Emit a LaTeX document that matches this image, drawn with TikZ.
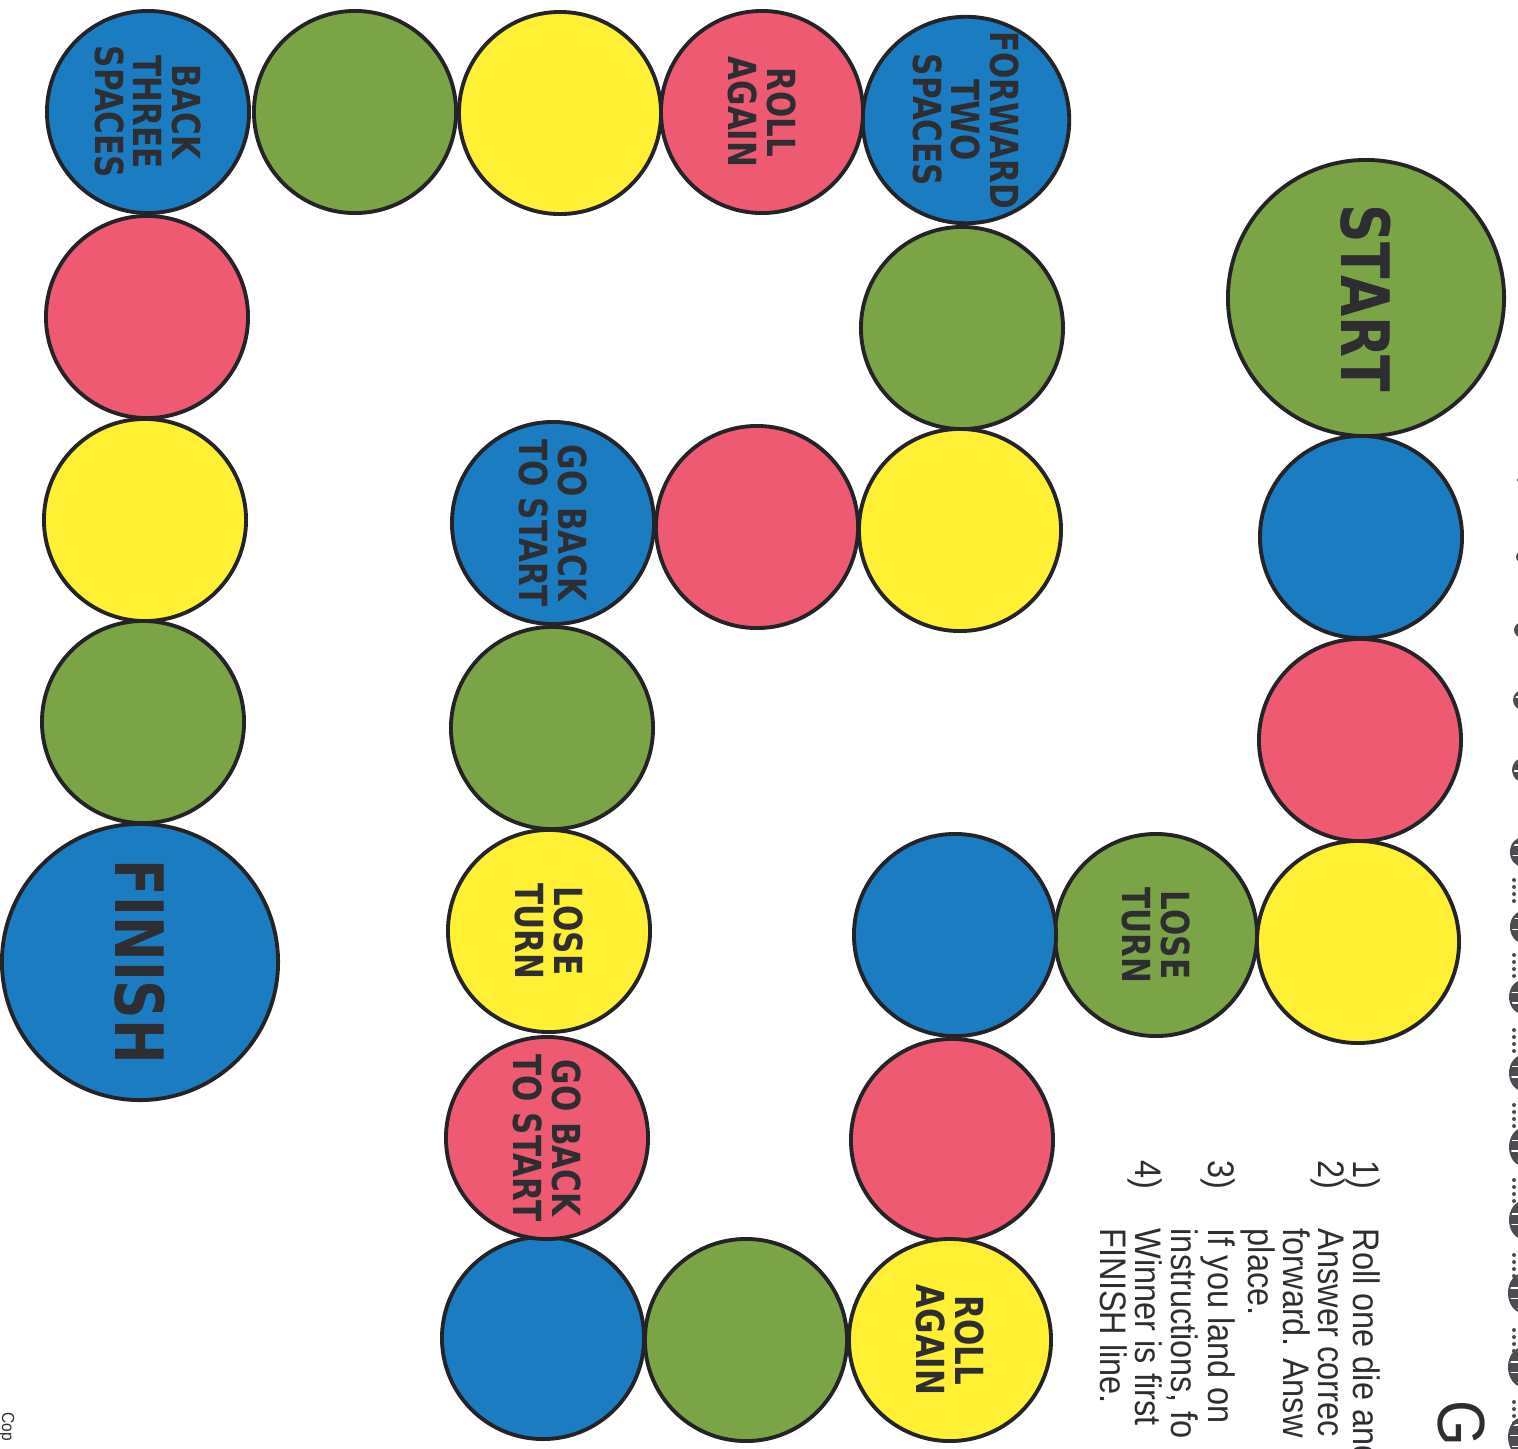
\documentclass[tikz,border=0pt]{standalone}
\usepackage{fontspec}
\usepackage{tikz}
\usetikzlibrary{patterns}
\newfontfamily\spotfont[FakeStretch=0.8]{DejaVu Sans}
\newfontfamily\rulefont[FakeStretch=0.88]{Liberation Sans}
\definecolor{myblue}{RGB}{27,124,193}
\definecolor{mylime}{RGB}{123,164,70}
\definecolor{mypink}{RGB}{238,90,114}
\definecolor{myyellow}{RGB}{255,240,51}
\definecolor{myink}{RGB}{45,45,50}
\tikzset{
  spot/.style={circle, draw=myink!80!black, line width=1.1pt, minimum size=2.02cm, inner sep=0pt, align=center, rotate=-90, text=myink, font=\spotfont\bfseries\fontsize{11}{11}\selectfont},
  bigspot/.style={spot, minimum size=2.76cm, font=\spotfont\bfseries\fontsize{19}{19}\selectfont},
  rule/.style={anchor=base west, rotate=-90, inner sep=0pt, text=myink, font=\rulefont\fontsize{10.5}{10.5}\selectfont},
  strand/.style={fill=myink!85}
}

\begin{document}
\begin{tikzpicture}[x=0.01cm, y=-0.01cm]
  \useasboundingbox (0,0) rectangle (1518,1448);
  \clip (0,0) rectangle (1518,1448);

  % board, from START round to FINISH
  \node [bigspot, fill=mylime] (start) at (1366,298) {START};
  \node [spot, fill=myblue] (s1) at (1361,537) {};
  \node [spot, fill=mypink] (s2) at (1360,740) {};
  \node [spot, fill=myyellow] (s3) at (1358,942) {};
  \node [spot, fill=mylime] (s4) at (1156,935) {LOSE\\TURN};
  \node [spot, fill=myblue] (s5) at (955,935) {};
  \node [spot, fill=mypink] (s6) at (952,1140) {};
  \node [spot, fill=myyellow] (s7) at (950,1340) {ROLL\\AGAIN};
  \node [spot, fill=mylime] (s8) at (746,1340) {};
  \node [spot, fill=myblue] (s9) at (543,1338) {};
  \node [spot, fill=mypink] (s10) at (547,1138) {GO BACK\\TO START};
  \node [spot, fill=myyellow] (s11) at (549,931) {LOSE\\TURN};
  \node [spot, fill=mylime] (s12) at (552,728) {};
  \node [spot, fill=myblue] (s13) at (553,523) {GO BACK\\TO START};
  \node [spot, fill=mypink] (s14) at (757,527) {};
  \node [spot, fill=myyellow] (s15) at (960,530) {};
  \node [spot, fill=mylime] (s16) at (962,328) {};
  \node [spot, fill=myblue] (s17) at (966,120) {FORWARD\\TWO\\SPACES};
  \node [spot, fill=mypink] (s18) at (762,112) {ROLL\\AGAIN};
  \node [spot, fill=myyellow] (s19) at (560,113) {};
  \node [spot, fill=mylime] (s20) at (355,112) {};
  \node [spot, fill=myblue] (s21) at (148,112) {BACK\\THREE\\SPACES};
  \node [spot, fill=mypink] (s22) at (147,317) {};
  \node [spot, fill=myyellow] (s23) at (145,520) {};
  \node [spot, fill=mylime] (s24) at (143,722) {};
  \node [bigspot, fill=myblue, font=\spotfont\bfseries\fontsize{19}{19}\selectfont] (finish) at (140,962) {FINISH};

  % rules, cut off by the page edge
  \node [rule, font=\rulefont\fontsize{19}{19}\selectfont] (title) at (1438,1400) {G};
  \node [rule] (n1) at (1353,1160) {1)};
  \node [rule] (r1) at (1353,1228) {Roll one die and};
  \node [rule] (n2) at (1318,1160) {2)};
  \node [rule] (r2) at (1318,1228) {Answer correc};
  \node [rule] (r2b) at (1283,1228) {forward. Answ};
  \node [rule] (r2c) at (1248,1228) {place.};
  \node [rule] (n3) at (1208,1160) {3)};
  \node [rule] (r3) at (1208,1228) {If you land on};
  \node [rule] (r3b) at (1171,1228) {instructions, fo};
  \node [rule] (n4) at (1135,1160) {4)};
  \node [rule] (r4) at (1135,1228) {Winner is first};
  \node [rule] (r4b) at (1100,1228) {FINISH line.};
  \node [rule, font=\rulefont\fontsize{5}{5}\selectfont] (copy) at (2,1412) {Cop};

  % twisted border along the right edge
  \foreach \yy/\rx/\ry in {480/6/4, 557/7/6, 630/9/8, 700/10/10, 770/11/12, 852/13/15, 927/13/16, 997/14/17, 1073/14/18, 1147/14/19, 1220/14/19, 1293/15/20, 1367/15/20, 1437/15/20} {
    \fill [strand] (1523,\yy) ellipse ({\rx} and {\ry});
    \fill [pattern=horizontal lines, pattern color=white] (1523,\yy) ellipse ({\rx-2} and {\ry-3});
  }
  \foreach \yy in {880, 955, 1030, 1105, 1180, 1255, 1330, 1402} {
    \foreach \d in {0,1,2,3}
      \fill [strand] (1514,{\yy+7*\d}) circle (2);
  }
\end{tikzpicture}
\end{document}
